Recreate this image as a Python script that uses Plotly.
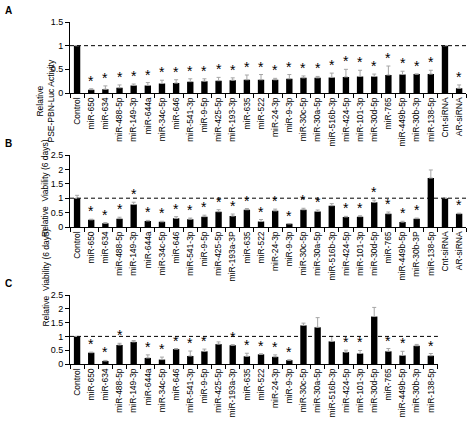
import plotly.graph_objects as go

# ---------------- data ----------------
cats_A = ["Control", "miR-650", "miR-634", "miR-488-5p", "miR-149-3p", "miR-644a", "miR-34c-5p",
          "miR-646", "miR-541-3p", "miR-9-5p", "miR-425-5p", "miR-193-3p", "miR-635", "miR-522",
          "miR-24-3p", "miR-9-3p", "miR-30c-5p", "miR-30a-5p", "miR-516b-3p", "miR-424-5p",
          "miR-101-3p", "miR-30d-5p", "miR-765", "miR-449b-5p", "miR-30b-3p", "miR-138-5p",
          "Cnt-siRNA", "AR-siRNA"]
vals_A = [1.0, 0.07, 0.08, 0.11, 0.16, 0.16, 0.20, 0.21, 0.24, 0.25, 0.26, 0.27, 0.28, 0.28,
          0.28, 0.30, 0.32, 0.32, 0.33, 0.34, 0.35, 0.35, 0.38, 0.39, 0.40, 0.40, 1.0, 0.10]
err_A = [0.0, 0.02, 0.07, 0.06, 0.03, 0.06, 0.07, 0.07, 0.06, 0.05, 0.07, 0.05, 0.10, 0.11,
         0.03, 0.09, 0.04, 0.03, 0.09, 0.16, 0.13, 0.05, 0.19, 0.07, 0.0, 0.08, 0.0, 0.07]
star_A = [0, 1, 1, 1, 1, 1, 1, 1, 1, 1, 1, 1, 1, 1, 1, 1, 1, 1, 1, 1, 1, 1, 1, 1, 1, 1, 0, 1]

cats_B = ["Control", "miR-650", "miR-634", "miR-488-5p", "miR-149-3p", "miR-644a", "miR-34c-5p",
          "miR-646", "miR-541-3p", "miR-9-5p", "miR-425-5p", "miR-193a-3P", "miR-635", "miR-522",
          "miR-24-3p", "miR-9-3p", "miR-30c-5p", "miR-30a-5p", "miR-516b-3p", "miR-424-5p",
          "miR-101-3p", "miR-30d-5p", "miR-765", "miR-449b-5p", "miR-30b-3P", "miR-138-5p",
          "Cnt-siRNA", "AR-siRNA"]
vals_B = [1.0, 0.25, 0.13, 0.29, 0.78, 0.21, 0.18, 0.30, 0.27, 0.36, 0.53, 0.38, 0.60, 0.19,
          0.56, 0.11, 0.60, 0.54, 0.74, 0.35, 0.36, 0.86, 0.46, 0.17, 0.29, 1.70, 1.0, 0.46]
err_B = [0.10, 0.02, 0.02, 0.05, 0.08, 0.02, 0.02, 0.06, 0.04, 0.05, 0.07, 0.07, 0.04, 0.07,
         0.06, 0.01, 0.05, 0.05, 0.07, 0.02, 0.03, 0.07, 0.06, 0.03, 0.02, 0.28, 0.0, 0.02]
star_B = [0, 1, 1, 1, 1, 1, 1, 1, 1, 1, 1, 1, 1, 1, 1, 1, 1, 1, 0, 1, 1, 1, 1, 1, 1, 0, 0, 1]

cats_C = ["Control", "miR-650", "miR-634", "miR-488-5p", "miR-149-3p", "miR-644a", "miR-34c-5p",
          "miR-646", "miR-541-3p", "miR-9-5p", "miR-425-5p", "miR-193a-3p", "miR-635", "miR-522",
          "miR-24-3p", "miR-9-3p", "miR-30c-5p", "miR-30a-5p", "miR-516b-3p", "miR-424-5p",
          "miR-101-3p", "miR-30d-5p", "miR-765", "miR-449b-5p", "miR-30b-3p", "miR-138-5p"]
vals_C = [1.0, 0.41, 0.11, 0.69, 0.80, 0.22, 0.16, 0.54, 0.29, 0.46, 0.72, 0.68, 0.28, 0.35,
          0.26, 0.14, 1.40, 1.33, 0.82, 0.43, 0.38, 1.72, 0.46, 0.31, 0.66, 0.30]
err_C = [0.0, 0.02, 0.02, 0.06, 0.05, 0.11, 0.09, 0.02, 0.18, 0.08, 0.08, 0.02, 0.11, 0.02,
         0.07, 0.01, 0.08, 0.35, 0.18, 0.07, 0.11, 0.33, 0.10, 0.15, 0.05, 0.08]
star_C = [0, 1, 1, 1, 0, 1, 1, 1, 1, 1, 0, 1, 1, 1, 1, 1, 0, 0, 0, 1, 1, 0, 1, 1, 0, 1]

y_ticks_A = [0, 0.5, 1, 1.5]
y_ticks_BC = [0, 0.5, 1, 1.5, 2, 2.5]

# ---------------- layout geometry ----------------
W, H = 469, 424
FONT = "Liberation Sans"

def py(px):
    return 1 - px / H

x0 = 70 / W
step = 14.15 / W
domA_y = [py(93), py(22)]
domB_y = [py(227), py(155)]
domC_y = [py(364), py(295)]

panels = [
    ("A", cats_A, vals_A, err_A, star_A, [0, 1.5], y_ticks_A, domA_y, "", 1),
    ("B", cats_B, vals_B, err_B, star_B, [0, 2.5], y_ticks_BC, domB_y, "2", 2),
    ("C", cats_C, vals_C, err_C, star_C, [0, 2.5], y_ticks_BC, domC_y, "3", 3),
]

fig = go.Figure()
annotations = []
shapes = []
layout = {}

for letter, cats, vals, errs, stars, yr, yt, ydom, sfx, idx in panels:
    xa = "x" + sfx
    ya = "y" + sfx
    fig.add_trace(go.Bar(
        x=cats, y=vals, xaxis=xa, yaxis=ya,
        marker=dict(color="black", line=dict(width=0)),
        width=0.45,
        error_y=dict(type="data", symmetric=False, array=errs,
                     arrayminus=[0] * len(errs), color="#a6a6a6",
                     thickness=1, width=2),
        showlegend=False, hoverinfo="skip",
    ))
    n = len(cats)
    xdom = [x0, min(1.0, x0 + step * n)]
    layout["xaxis" + sfx] = dict(
        domain=xdom, anchor=ya, type="category", range=[-0.5, n - 0.5],
        showline=True, linecolor="black", linewidth=1,
        ticks="outside", ticklen=4, tickcolor="black", tickson="boundaries",
        tickangle=-90, tickfont=dict(family=FONT, size=8.5, color="black"),
        showgrid=False, zeroline=False, automargin=False,
    )
    layout["yaxis" + sfx] = dict(
        domain=ydom, anchor=xa, range=yr,
        tickvals=yt, ticktext=[("%g" % t) for t in yt],
        showline=True, linecolor="black", linewidth=1,
        ticks="outside", ticklen=4, tickcolor="black",
        tickfont=dict(family=FONT, size=9, color="black"),
        showgrid=False, zeroline=False, automargin=False,
    )
    # reference line at 1
    shapes.append(dict(type="line", xref=xa + " domain", yref=ya,
                       x0=0, x1=1, y0=1, y1=1,
                       line=dict(color="black", width=1, dash="4px,3px")))
    # significance stars
    for c, v, e, s in zip(cats, vals, errs, stars):
        if s:
            annotations.append(dict(x=c, y=v + e, xref=xa, yref=ya, text="*",
                                    showarrow=False, yanchor="middle", yshift=8,
                                    font=dict(family=FONT, size=14, color="black")))
    # panel letter
    annotations.append(dict(x=3 / W, y=ydom[1] + 12 / H, xref="paper", yref="paper",
                            text="<b>%s</b>" % letter, showarrow=False,
                            xanchor="left", yanchor="middle",
                            font=dict(family=FONT, size=10, color="black")))

# y-axis titles
annotations.append(dict(x=32 / W, y=(domA_y[0] + domA_y[1]) / 2, xref="paper", yref="paper",
                        text="Relative<br>PSE-PBN-Luc Activity", textangle=-90, showarrow=False,
                        font=dict(family=FONT, size=8.5, color="black")))
annotations.append(dict(x=38 / W, y=(domB_y[0] + domB_y[1]) / 2 + 3 / H, xref="paper", yref="paper",
                        text="Relative  Viability (6 days)", textangle=-90, showarrow=False,
                        font=dict(family=FONT, size=8.5, color="black")))
annotations.append(dict(x=38 / W, y=(domC_y[0] + domC_y[1]) / 2 + 1 / H, xref="paper", yref="paper",
                        text="Relative  Viability (6 days)", textangle=-90, showarrow=False,
                        font=dict(family=FONT, size=8.5, color="black")))

fig.update_layout(
    width=W, height=H, margin=dict(l=0, r=0, t=0, b=0),
    paper_bgcolor="white", plot_bgcolor="white",
    annotations=annotations, shapes=shapes, bargap=0.55,
    **layout,
)

fig.write_html("out.html")
